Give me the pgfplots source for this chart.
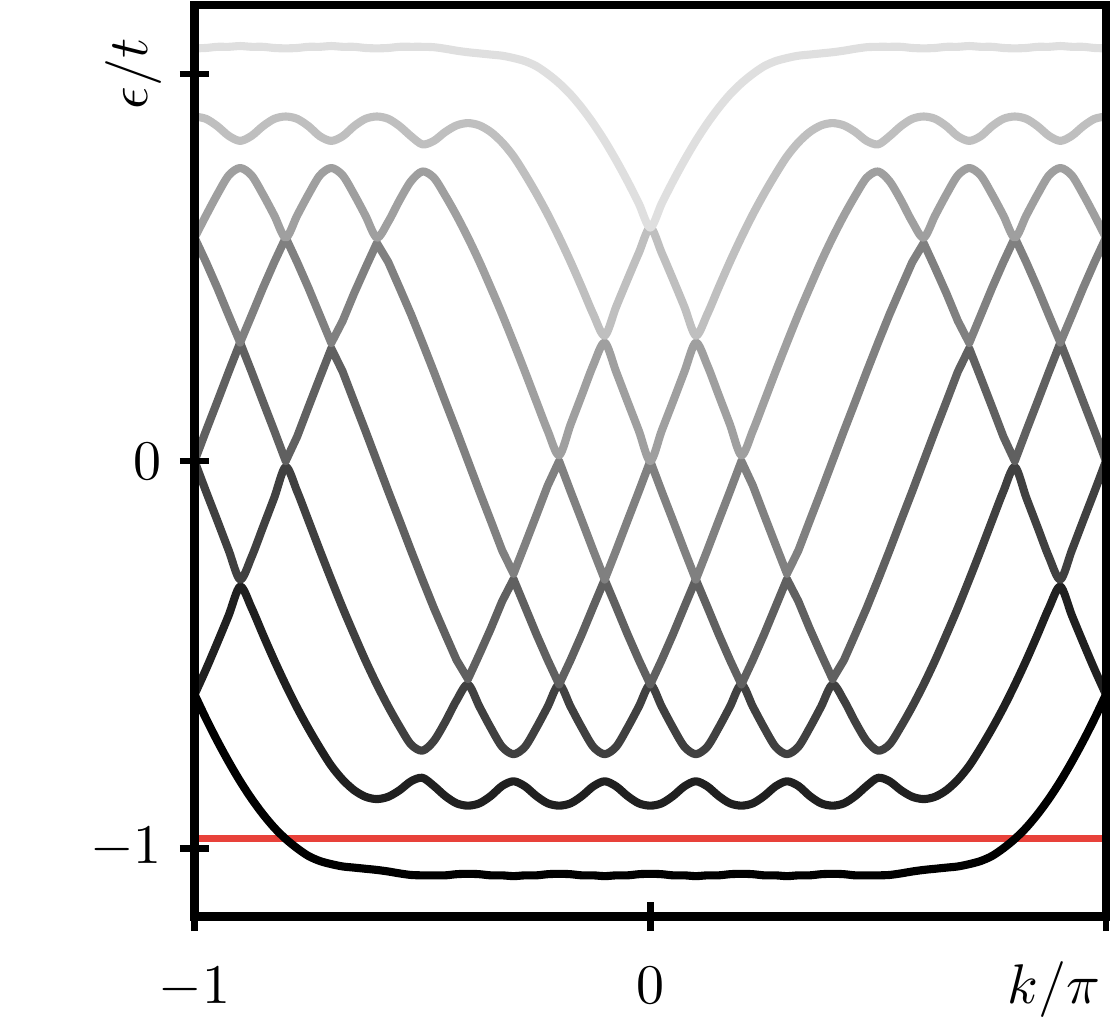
\documentclass[border=0pt]{standalone}
\usepackage{pgfplots}
\pgfplotsset{compat=1.18}
\usepackage{pgfplotstable}
\usepackage{graphicx}

\definecolor{redline}{RGB}{232,65,58}
\definecolor{g1}{gray}{0.0}
\definecolor{g2}{gray}{0.125}
\definecolor{g3}{gray}{0.25}
\definecolor{g4}{gray}{0.375}
\definecolor{g5}{gray}{0.5}
\definecolor{g6}{gray}{0.625}
\definecolor{g7}{gray}{0.75}
\definecolor{g8}{gray}{0.875}

% bands 1 (lowest) .. 8 (highest), energies in units of t
\pgfplotstableread{
k b1 b2 b3 b4 b5 b6 b7 b8
-1.000 -0.603 -0.603 0.000 0.000 0.577 0.577 0.890 1.066
-0.975 -0.665 -0.538 -0.078 0.078 0.514 0.634 0.884 1.067
-0.950 -0.723 -0.469 -0.154 0.154 0.447 0.689 0.865 1.070
-0.925 -0.777 -0.398 -0.231 0.231 0.376 0.738 0.840 1.070
-0.900 -0.827 -0.324 -0.306 0.306 0.306 0.757 0.827 1.072
-0.875 -0.872 -0.379 -0.248 0.231 0.376 0.738 0.840 1.070
-0.850 -0.912 -0.448 -0.171 0.154 0.447 0.689 0.865 1.070
-0.825 -0.947 -0.515 -0.094 0.078 0.514 0.634 0.884 1.067
-0.800 -0.976 -0.578 -0.015 0.000 0.577 0.577 0.890 1.066
-0.775 -1.000 -0.637 -0.078 0.063 0.514 0.634 0.884 1.067
-0.750 -1.020 -0.691 -0.154 0.140 0.447 0.689 0.865 1.070
-0.725 -1.033 -0.741 -0.231 0.216 0.376 0.738 0.839 1.070
-0.700 -1.041 -0.787 -0.306 0.291 0.305 0.757 0.827 1.072
-0.675 -1.047 -0.823 -0.379 0.231 0.362 0.738 0.839 1.070
-0.650 -1.050 -0.850 -0.448 0.154 0.433 0.689 0.865 1.070
-0.625 -1.053 -0.867 -0.515 0.078 0.499 0.634 0.884 1.067
-0.600 -1.056 -0.873 -0.577 0.000 0.563 0.577 0.890 1.066
-0.575 -1.060 -0.867 -0.634 -0.078 0.514 0.618 0.884 1.067
-0.550 -1.065 -0.850 -0.686 -0.154 0.447 0.674 0.865 1.070
-0.525 -1.069 -0.827 -0.732 -0.231 0.379 0.723 0.839 1.070
-0.500 -1.070 -0.818 -0.748 -0.306 0.306 0.748 0.818 1.070
-0.475 -1.070 -0.839 -0.723 -0.379 0.231 0.732 0.827 1.069
-0.450 -1.070 -0.865 -0.674 -0.447 0.154 0.686 0.850 1.065
-0.425 -1.067 -0.884 -0.618 -0.514 0.078 0.634 0.867 1.060
-0.400 -1.066 -0.890 -0.577 -0.563 0.000 0.577 0.873 1.056
-0.375 -1.067 -0.884 -0.634 -0.499 -0.078 0.515 0.867 1.053
-0.350 -1.070 -0.865 -0.689 -0.433 -0.154 0.448 0.850 1.050
-0.325 -1.070 -0.839 -0.738 -0.362 -0.231 0.379 0.823 1.047
-0.300 -1.072 -0.827 -0.757 -0.305 -0.291 0.306 0.787 1.041
-0.275 -1.070 -0.840 -0.738 -0.376 -0.216 0.231 0.741 1.033
-0.250 -1.070 -0.865 -0.689 -0.447 -0.140 0.154 0.691 1.020
-0.225 -1.067 -0.884 -0.634 -0.514 -0.063 0.078 0.637 1.000
-0.200 -1.066 -0.890 -0.577 -0.577 0.000 0.015 0.578 0.976
-0.175 -1.067 -0.884 -0.634 -0.514 -0.078 0.094 0.515 0.947
-0.150 -1.070 -0.865 -0.689 -0.447 -0.154 0.171 0.448 0.912
-0.125 -1.070 -0.840 -0.738 -0.376 -0.231 0.248 0.379 0.872
-0.100 -1.072 -0.827 -0.757 -0.306 -0.306 0.306 0.324 0.827
-0.075 -1.070 -0.840 -0.738 -0.376 -0.231 0.231 0.398 0.777
-0.050 -1.070 -0.865 -0.689 -0.447 -0.154 0.154 0.469 0.723
-0.025 -1.067 -0.884 -0.634 -0.514 -0.078 0.078 0.538 0.665
0.000 -1.066 -0.890 -0.577 -0.577 0.000 0.000 0.603 0.603
0.025 -1.067 -0.884 -0.634 -0.514 -0.078 0.078 0.538 0.665
0.050 -1.070 -0.865 -0.689 -0.447 -0.154 0.154 0.469 0.723
0.075 -1.070 -0.840 -0.738 -0.376 -0.231 0.231 0.398 0.777
0.100 -1.072 -0.827 -0.757 -0.306 -0.306 0.306 0.324 0.827
0.125 -1.070 -0.840 -0.738 -0.376 -0.231 0.248 0.379 0.872
0.150 -1.070 -0.865 -0.689 -0.447 -0.154 0.171 0.448 0.912
0.175 -1.067 -0.884 -0.634 -0.514 -0.078 0.094 0.515 0.947
0.200 -1.066 -0.890 -0.577 -0.577 0.000 0.015 0.578 0.976
0.225 -1.067 -0.884 -0.634 -0.514 -0.063 0.078 0.637 1.000
0.250 -1.070 -0.865 -0.689 -0.447 -0.140 0.154 0.691 1.020
0.275 -1.070 -0.840 -0.738 -0.376 -0.216 0.231 0.741 1.033
0.300 -1.072 -0.827 -0.757 -0.305 -0.291 0.306 0.787 1.041
0.325 -1.070 -0.839 -0.738 -0.362 -0.231 0.379 0.823 1.047
0.350 -1.070 -0.865 -0.689 -0.433 -0.154 0.448 0.850 1.050
0.375 -1.067 -0.884 -0.634 -0.499 -0.078 0.515 0.867 1.053
0.400 -1.066 -0.890 -0.577 -0.563 0.000 0.577 0.873 1.056
0.425 -1.067 -0.884 -0.618 -0.514 0.078 0.634 0.867 1.060
0.450 -1.070 -0.865 -0.674 -0.447 0.154 0.686 0.850 1.065
0.475 -1.070 -0.839 -0.723 -0.379 0.231 0.732 0.827 1.069
0.500 -1.070 -0.818 -0.748 -0.306 0.306 0.748 0.818 1.070
0.525 -1.069 -0.827 -0.732 -0.231 0.379 0.723 0.839 1.070
0.550 -1.065 -0.850 -0.686 -0.154 0.447 0.674 0.865 1.070
0.575 -1.060 -0.867 -0.634 -0.078 0.514 0.618 0.884 1.067
0.600 -1.056 -0.873 -0.577 0.000 0.563 0.577 0.890 1.066
0.625 -1.053 -0.867 -0.515 0.078 0.499 0.634 0.884 1.067
0.650 -1.050 -0.850 -0.448 0.154 0.433 0.689 0.865 1.070
0.675 -1.047 -0.823 -0.379 0.231 0.362 0.738 0.839 1.070
0.700 -1.041 -0.787 -0.306 0.291 0.305 0.757 0.827 1.072
0.725 -1.033 -0.741 -0.231 0.216 0.376 0.738 0.839 1.070
0.750 -1.020 -0.691 -0.154 0.140 0.447 0.689 0.865 1.070
0.775 -1.000 -0.637 -0.078 0.063 0.514 0.634 0.884 1.067
0.800 -0.976 -0.578 -0.015 0.000 0.577 0.577 0.890 1.066
0.825 -0.947 -0.515 -0.094 0.078 0.514 0.634 0.884 1.067
0.850 -0.912 -0.448 -0.171 0.154 0.447 0.689 0.865 1.070
0.875 -0.872 -0.379 -0.248 0.231 0.376 0.738 0.840 1.070
0.900 -0.827 -0.324 -0.306 0.306 0.306 0.757 0.827 1.072
0.925 -0.777 -0.398 -0.231 0.231 0.376 0.738 0.840 1.070
0.950 -0.723 -0.469 -0.154 0.154 0.447 0.689 0.865 1.070
0.975 -0.665 -0.538 -0.078 0.078 0.514 0.634 0.884 1.067
1.000 -0.603 -0.603 0.000 0.000 0.577 0.577 0.890 1.066
}\bands

\begin{document}
\begin{tikzpicture}
% picture frame: the axis box sits at (0,0)--(163pt,163pt)
\path[use as bounding box] (-34.8pt,-20pt) rectangle (163.9pt,163.9pt);
\begin{axis}[
    at={(0pt,0pt)}, anchor=south west,
    scale only axis,
    width=163pt, height=163pt,
    xmin=-1, xmax=1,
    ymin=-1.176, ymax=1.178,
    xtick={-1,0,1}, ytick={-1,0,1},
    xticklabels={$-1$,$0$,\makebox[0pt][r]{$k/\pi$\hspace{1pt}}},
    yticklabels={$-1$,$0$,\rotatebox{90}{$\epsilon/t$}\hspace{1.2pt}},
    tick pos=left, tick align=center,
    major tick length=5.3pt,
    every tick/.style={black, line width=1.2pt},
    axis line style={line width=1.5pt},
    xticklabel style={anchor=base, yshift=-12.9pt},
    yticklabel style={anchor=east, xshift=0.3pt},
    axis on top,
    clip=false,
    every axis plot/.append style={line width=1.45pt, line join=round},
]
\addplot[redline, line width=1.25pt] coordinates {(-1,-0.974) (1,-0.974)};
\addplot[g1, smooth, tension=0.5] table[x=k, y=b1] {\bands};
\addplot[g2, smooth, tension=0.5] table[x=k, y=b2] {\bands};
\addplot[g3, smooth, tension=0.5] table[x=k, y=b3] {\bands};
\addplot[g4] table[x=k, y=b4] {\bands};
\addplot[g5] table[x=k, y=b5] {\bands};
\addplot[g6, smooth, tension=0.5] table[x=k, y=b6] {\bands};
\addplot[g7, smooth, tension=0.5] table[x=k, y=b7] {\bands};
\addplot[g8, smooth, tension=0.5] table[x=k, y=b8] {\bands};
\end{axis}
\end{tikzpicture}
\end{document}
